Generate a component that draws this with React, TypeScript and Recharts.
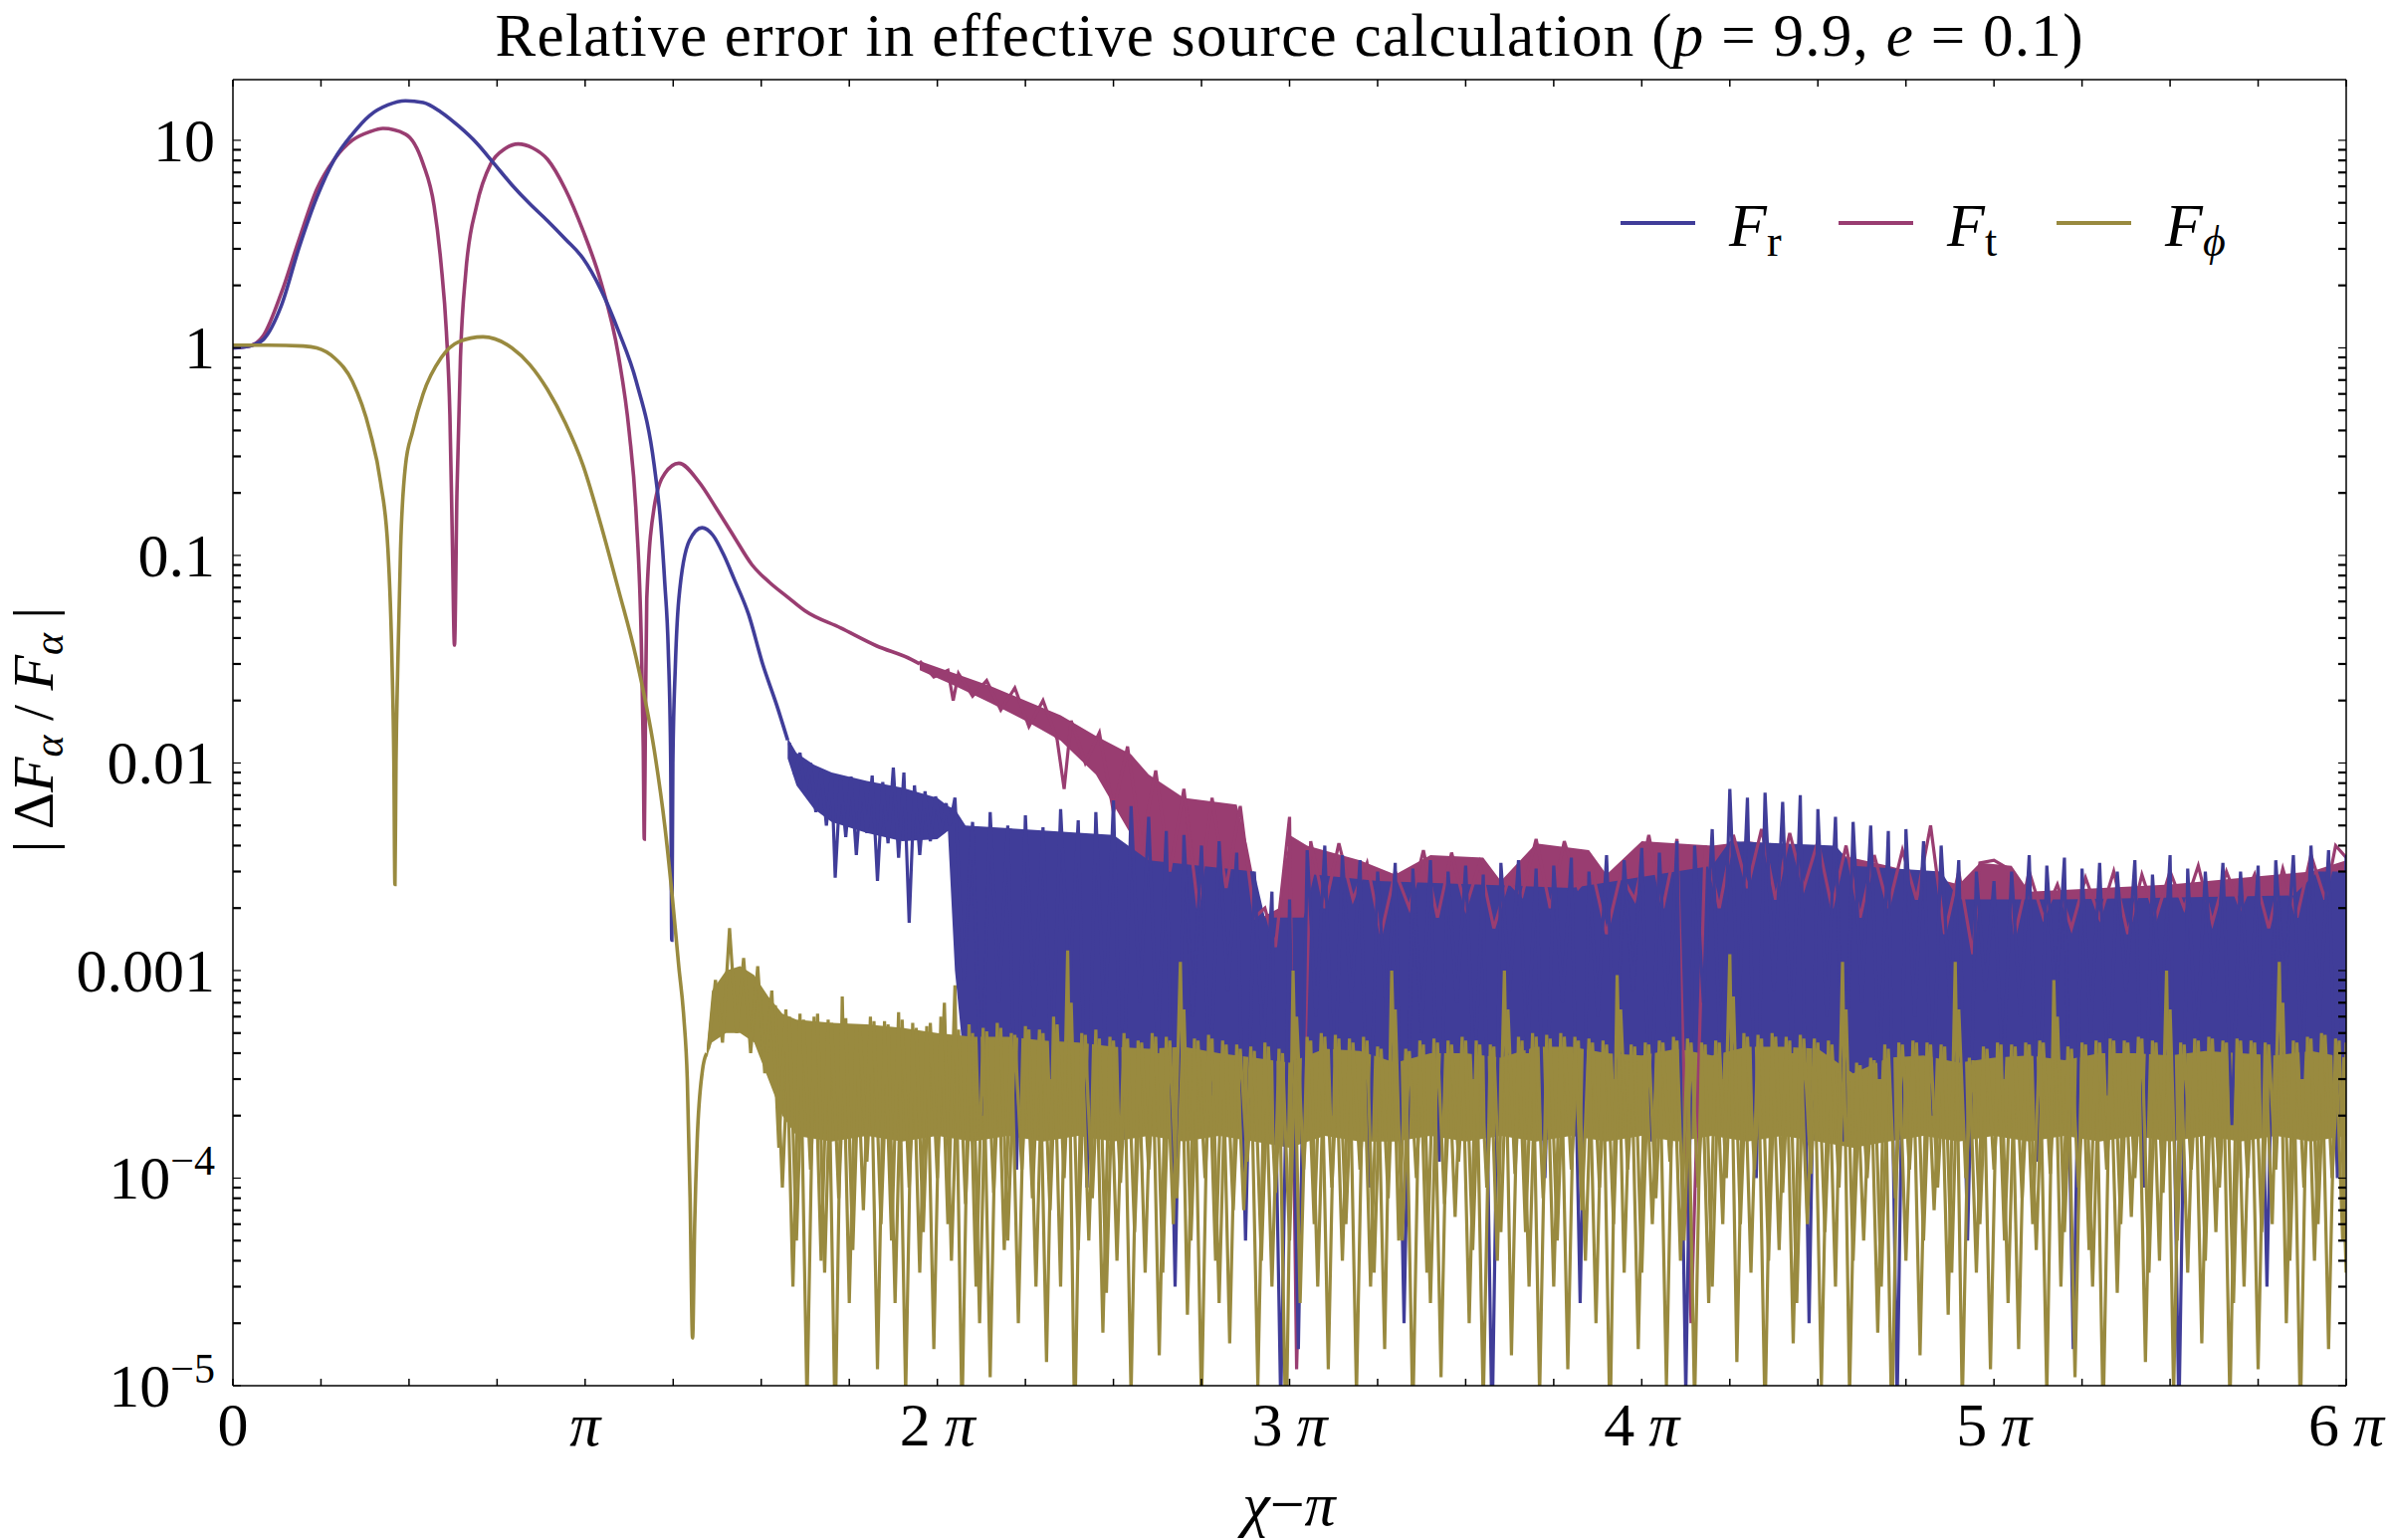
import React from 'react';
import { ComposedChart, Line, Area, XAxis, YAxis, Legend } from 'recharts';

const SERIF = '"Liberation Serif", "Times New Roman", serif';
const BLUE = '#403d99';
const PINK = '#993d71';
const OLIVE = '#998a3f';

// x is chi - pi in units of pi
const xTicks = [0, 0.25, 0.5, 0.75, 1, 1.25, 1.5, 1.75, 2, 2.25, 2.5, 2.75, 3, 3.25, 3.5, 3.75, 4, 4.25, 4.5, 4.75, 5, 5.25, 5.5, 5.75, 6];
const decades = [1e-5, 1e-4, 1e-3, 1e-2, 1e-1, 1, 10];
const minorSteps = [2, 3, 4, 5, 6, 7, 8, 9];
const yTicks = [...decades, ...decades.slice(0, 6).flatMap((d) => minorSteps.map((k) => k * d))];

// F_r (blue): smooth part
const frT = [0, 0.046, 0.087, 0.137, 0.188, 0.238, 0.288, 0.339, 0.389, 0.44, 0.49, 0.54, 0.59, 0.641, 0.692, 0.742, 0.792, 0.843, 0.893, 0.944, 0.994, 1.044, 1.095, 1.145, 1.196, 1.215, 1.226, 1.236, 1.243, 1.246, 1.249, 1.256, 1.266, 1.296, 1.332, 1.363, 1.393, 1.423, 1.464, 1.504, 1.544, 1.575];
const frV = [1.0, 1.02, 1.1, 1.59, 3.05, 5.3, 8.1, 10.7, 13.2, 14.8, 15.5, 15.2, 13.7, 11.7, 9.7, 7.7, 6.1, 4.94, 4.1, 3.34, 2.7, 1.92, 1.2, 0.69, 0.272, 0.14, 0.074, 0.035, 0.01, 0.0014, 0.01, 0.029, 0.0617, 0.118, 0.136, 0.125, 0.101, 0.077, 0.052, 0.03, 0.019, 0.0129];
// F_r noise band [t, low, high] and spikes [t, v]
const frBand = [
  [1.575, 0.0105, 0.0132], [1.6, 0.0078, 0.0112], [1.65, 0.006, 0.0098], [1.7, 0.0052, 0.009], [1.8, 0.0046, 0.0082],
  [1.9, 0.0042, 0.0076], [2.0, 0.0043, 0.0068], [2.03, 0.0047, 0.0062], [2.05, 0.001, 0.006], [2.08, 3e-4, 0.005],
  [2.5, 3e-4, 0.0045], [2.6, 3e-4, 0.0034], [2.9, 3e-4, 0.003], [2.93, 3e-4, 0.0018], [3.04, 3e-4, 0.0018],
  [3.07, 3e-4, 0.0029], [3.25, 3e-4, 0.0027], [3.8, 3e-4, 0.0025], [4.2, 3e-4, 0.0032], [4.25, 3e-4, 0.0042],
  [4.55, 3e-4, 0.004], [4.6, 3e-4, 0.0032], [4.85, 3e-4, 0.003], [4.9, 3e-4, 0.0022], [5.2, 3e-4, 0.0022],
  [5.85, 3e-4, 0.0023], [5.92, 3e-4, 0.003], [6.0, 3e-4, 0.003],
];
const frNoise = [
  [1.58, 0.0125], [1.595, 0.0088], [1.61, 0.0112], [1.625, 0.0072], [1.64, 0.01], [1.655, 0.0058], [1.67, 0.0093], [1.685, 0.005],
  [1.7, 0.0088], [1.71, 0.0028], [1.725, 0.0083], [1.74, 0.0044], [1.755, 0.0086], [1.77, 0.0036], [1.785, 0.008], [1.8, 0.0046],
  [1.815, 0.0087], [1.83, 0.0027], [1.845, 0.0081], [1.86, 0.0041], [1.875, 0.0095], [1.89, 0.0035], [1.905, 0.009], [1.92, 0.0017],
  [1.935, 0.0078], [1.95, 0.0036], [1.965, 0.0073], [1.98, 0.0042], [1.995, 0.0069], [2.01, 0.0046], [2.025, 0.0064], [2.035, 0.005],
  [2.05, 0.0068], [2.075, 9e-4], [2.1, 0.0052], [2.125, 2e-4], [2.15, 0.0058], [2.175, 7e-4], [2.2, 0.005], [2.225, 1.1e-4],
  [2.25, 0.0056], [2.275, 6e-4], [2.3, 0.0049], [2.325, 3e-4], [2.35, 0.006], [2.375, 8e-4], [2.4, 0.0053], [2.425, 9e-5],
  [2.45, 0.0058], [2.475, 5e-4], [2.5, 0.0066], [2.525, 1.4e-4], [2.55, 0.0062], [2.575, 7e-4], [2.6, 0.0055], [2.625, 4e-4],
  [2.65, 0.0047], [2.675, 3e-5], [2.7, 0.0045], [2.725, 6e-4], [2.75, 0.004], [2.775, 2.5e-4], [2.8, 0.0042], [2.825, 8e-4],
  [2.85, 0.0037], [2.875, 5e-5], [2.9, 0.003], [2.925, 4e-4], [2.95, 0.0024], [2.975, 8e-6], [3.0, 0.0022], [3.025, 1.5e-5],
  [3.05, 0.0038], [3.075, 6e-4], [3.1, 0.004], [3.125, 2e-4], [3.15, 0.0036], [3.175, 7e-4], [3.2, 0.0034], [3.225, 9e-5],
  [3.25, 0.003], [3.275, 6e-4], [3.3, 0.0033], [3.325, 2e-5], [3.35, 0.0031], [3.375, 5e-4], [3.4, 0.0034], [3.425, 1.2e-4],
  [3.45, 0.003], [3.475, 7e-4], [3.5, 0.0032], [3.525, 3e-4], [3.55, 0.0029], [3.575, 6e-6], [3.6, 0.0033], [3.625, 8e-4],
  [3.65, 0.0034], [3.675, 4e-4], [3.7, 0.0031], [3.725, 1e-4], [3.75, 0.0032], [3.775, 7e-4], [3.8, 0.0035], [3.825, 2.5e-5],
  [3.85, 0.003], [3.875, 6e-4], [3.9, 0.0036], [3.925, 3e-4], [3.95, 0.0034], [3.975, 8e-4], [4.0, 0.0039], [4.025, 1.5e-4],
  [4.05, 0.0037], [4.075, 5e-4], [4.1, 0.0042], [4.125, 9e-6], [4.15, 0.004], [4.175, 7e-4], [4.2, 0.0048], [4.225, 3e-4],
  [4.25, 0.0075], [4.275, 6e-4], [4.3, 0.0068], [4.325, 1e-4], [4.35, 0.0072], [4.375, 8e-4], [4.4, 0.0065], [4.425, 4e-4],
  [4.45, 0.007], [4.475, 2e-5], [4.5, 0.006], [4.525, 6e-4], [4.55, 0.0055], [4.575, 1.5e-4], [4.6, 0.0052], [4.625, 7e-4],
  [4.65, 0.005], [4.675, 3e-4], [4.7, 0.0047], [4.725, 8e-6], [4.75, 0.0048], [4.775, 6e-4], [4.8, 0.0042], [4.825, 2e-4],
  [4.85, 0.004], [4.875, 7e-4], [4.9, 0.0034], [4.925, 5e-5], [4.95, 0.003], [4.975, 8e-4], [5.0, 0.0027], [5.025, 3e-4],
  [5.05, 0.003], [5.075, 6e-4], [5.1, 0.0036], [5.125, 1.2e-4], [5.15, 0.0032], [5.175, 7e-4], [5.2, 0.0035], [5.225, 1.5e-5],
  [5.25, 0.0031], [5.275, 5e-4], [5.3, 0.0033], [5.325, 2.5e-4], [5.35, 0.003], [5.375, 8e-4], [5.4, 0.0034], [5.425, 9e-5],
  [5.45, 0.0029], [5.475, 6e-4], [5.5, 0.0036], [5.525, 7e-6], [5.55, 0.0031], [5.575, 4e-4], [5.6, 0.003], [5.625, 7e-4],
  [5.65, 0.0033], [5.675, 1.8e-4], [5.7, 0.003], [5.725, 6e-4], [5.75, 0.0032], [5.775, 3e-5], [5.8, 0.0034], [5.825, 8e-4],
  [5.85, 0.0036], [5.875, 3e-4], [5.9, 0.004], [5.925, 6e-4], [5.95, 0.0038], [5.975, 1e-4], [6.0, 0.0036],
];

// F_t (magenta): smooth part
const ftT = [0, 0.046, 0.087, 0.137, 0.188, 0.238, 0.288, 0.339, 0.389, 0.426, 0.49, 0.54, 0.571, 0.591, 0.606, 0.616, 0.623, 0.629, 0.636, 0.646, 0.661, 0.692, 0.732, 0.772, 0.81, 0.85, 0.893, 0.944, 0.994, 1.044, 1.095, 1.125, 1.145, 1.16, 1.165, 1.168, 1.171, 1.175, 1.196, 1.226, 1.266, 1.323, 1.373, 1.423, 1.474, 1.524, 1.575, 1.625, 1.726, 1.827, 1.927, 1.95];
const ftV = [1.0, 1.02, 1.15, 1.83, 3.34, 5.8, 8.1, 10.0, 11.0, 11.4, 10.7, 7.7, 4.85, 2.53, 1.2, 0.475, 0.118, 0.037, 0.2, 0.9, 2.3, 4.85, 7.7, 9.1, 9.6, 9.2, 8.1, 5.8, 3.67, 2.1, 0.91, 0.395, 0.156, 0.035, 0.012, 0.0043, 0.015, 0.062, 0.171, 0.248, 0.278, 0.226, 0.168, 0.123, 0.09, 0.074, 0.063, 0.054, 0.0447, 0.0367, 0.0315, 0.03];
const ftBand = [
  [1.95, 0.028, 0.031], [2.05, 0.0235, 0.027], [2.15, 0.0195, 0.0235], [2.25, 0.016, 0.02], [2.35, 0.0128, 0.017],
  [2.45, 0.0088, 0.0135], [2.55, 0.0045, 0.011], [2.6, 0.0015, 0.0088], [2.7, 0.0015, 0.0068], [2.85, 0.0015, 0.0063],
  [2.88, 0.0015, 0.004], [2.92, 0.0012, 0.0018], [2.97, 0.0012, 0.002], [3.0, 0.0015, 0.0045], [3.05, 0.0015, 0.004],
  [3.2, 0.0015, 0.0034], [3.3, 0.0015, 0.0029], [3.4, 0.0015, 0.0036], [3.55, 0.0015, 0.0035], [3.6, 0.0015, 0.0027],
  [3.7, 0.0015, 0.0041], [3.85, 0.0015, 0.0038], [3.9, 0.0015, 0.0029], [4.0, 0.0015, 0.0042], [4.2, 0.0015, 0.004],
  [4.3, 0.0015, 0.0042], [4.5, 0.0015, 0.0038], [4.7, 0.0015, 0.0032], [4.9, 0.0015, 0.0026], [4.96, 0.0015, 0.0033],
  [5.05, 0.0015, 0.0032], [5.1, 0.0015, 0.0024], [5.5, 0.0015, 0.0026], [5.9, 0.0015, 0.003], [6.0, 0.0015, 0.0034],
];
const ftNoise = [
  [1.95, 0.031], [1.99, 0.026], [2.03, 0.028], [2.045, 0.02], [2.06, 0.027], [2.1, 0.021], [2.14, 0.025], [2.18, 0.018],
  [2.22, 0.023], [2.26, 0.015], [2.3, 0.02], [2.34, 0.013], [2.36, 0.0075], [2.38, 0.016], [2.42, 0.01], [2.46, 0.014],
  [2.5, 0.0058], [2.54, 0.012], [2.58, 0.004], [2.62, 0.0092], [2.66, 0.003], [2.7, 0.0075], [2.74, 0.002], [2.78, 0.0068],
  [2.82, 0.0025], [2.86, 0.0062], [2.9, 0.0018], [2.93, 0.002], [2.96, 0.0013], [3.0, 0.0055], [3.02, 1.2e-5], [3.06, 0.0042],
  [3.1, 0.002], [3.14, 0.0041], [3.18, 0.0022], [3.22, 0.0033], [3.26, 0.0015], [3.3, 0.003], [3.34, 0.002], [3.38, 0.0038],
  [3.42, 0.0018], [3.46, 0.0037], [3.5, 0.002], [3.54, 0.0033], [3.58, 0.0016], [3.62, 0.0027], [3.66, 0.0023], [3.7, 0.0043],
  [3.74, 0.002], [3.78, 0.0042], [3.82, 0.0025], [3.86, 0.003], [3.9, 0.0015], [3.94, 0.0029], [3.98, 0.0022], [4.02, 0.0045],
  [4.06, 0.002], [4.1, 0.0043], [4.14, 2e-5], [4.18, 0.004], [4.22, 0.002], [4.26, 0.0045], [4.3, 0.0025], [4.34, 0.0048],
  [4.38, 0.0022], [4.42, 0.0046], [4.46, 0.0025], [4.5, 0.0042], [4.54, 0.002], [4.58, 0.004], [4.62, 0.0018], [4.66, 0.0036],
  [4.7, 0.002], [4.74, 0.0038], [4.78, 0.0022], [4.82, 0.005], [4.86, 0.0015], [4.9, 0.003], [4.94, 0.0012], [4.96, 0.0033],
  [5.0, 0.0034], [5.04, 0.0031], [5.06, 0.0015], [5.1, 0.003], [5.14, 0.0018], [5.18, 0.0026], [5.22, 0.0016], [5.26, 0.0028],
  [5.3, 0.0018], [5.34, 0.003], [5.38, 0.0015], [5.42, 0.0029], [5.46, 0.0018], [5.5, 0.003], [5.54, 0.002], [5.58, 0.0032],
  [5.62, 0.0017], [5.66, 0.003], [5.7, 0.002], [5.74, 0.0029], [5.78, 0.0016], [5.82, 0.0031], [5.86, 0.0018], [5.9, 0.0036],
  [5.94, 0.0022], [5.97, 0.004], [6.0, 0.0035],
];

// F_phi (olive): smooth part
const fpT = [0, 0.1, 0.2, 0.238, 0.288, 0.339, 0.389, 0.419, 0.44, 0.452, 0.457, 0.46, 0.463, 0.468, 0.476, 0.49, 0.51, 0.54, 0.591, 0.641, 0.71, 0.792, 0.843, 0.893, 0.944, 0.994, 1.044, 1.095, 1.145, 1.196, 1.226, 1.246, 1.266, 1.28, 1.29, 1.298, 1.305, 1.311, 1.318, 1.333, 1.345];
const fpV = [1.03, 1.03, 1.02, 1.0, 0.895, 0.69, 0.395, 0.226, 0.108, 0.029, 0.01, 0.0026, 0.01, 0.029, 0.108, 0.272, 0.395, 0.6, 0.895, 1.07, 1.13, 1.0, 0.83, 0.63, 0.434, 0.272, 0.142, 0.068, 0.032, 0.0116, 0.005, 0.0024, 0.00104, 0.0006, 0.0003, 0.00008, 0.000017, 0.00006, 0.00015, 0.00033, 0.0004];
const fpBand = [
  [1.345, 3.8e-4, 4.2e-4], [1.36, 4.5e-4, 8e-4], [1.4, 5e-4, 1e-3], [1.44, 5e-4, 1.05e-3], [1.48, 4.5e-4, 9.5e-4],
  [1.52, 3e-4, 7.5e-4], [1.56, 2e-4, 6.2e-4], [1.6, 1.6e-4, 5.8e-4], [1.7, 1.5e-4, 5.6e-4], [1.8, 1.6e-4, 5.5e-4],
  [1.9, 1.5e-4, 5.3e-4], [2.0, 1.6e-4, 5e-4], [2.1, 1.5e-4, 4.8e-4], [2.2, 1.6e-4, 4.8e-4], [2.3, 1.5e-4, 4.6e-4],
  [2.4, 1.6e-4, 4.5e-4], [2.5, 1.5e-4, 4.3e-4], [2.6, 1.6e-4, 4.2e-4], [2.7, 1.5e-4, 4.3e-4], [2.8, 1.6e-4, 4e-4],
  [2.9, 1.5e-4, 3.8e-4], [3.0, 1.4e-4, 3.6e-4], [3.1, 1.6e-4, 4.2e-4], [3.2, 1.5e-4, 4.1e-4], [3.3, 1.5e-4, 3.6e-4],
  [3.4, 1.6e-4, 4e-4], [3.5, 1.5e-4, 4e-4], [3.6, 1.6e-4, 3.8e-4], [3.7, 1.5e-4, 4.3e-4], [3.8, 1.6e-4, 4.3e-4],
  [3.9, 1.5e-4, 4e-4], [4.0, 1.6e-4, 3.9e-4], [4.1, 1.5e-4, 4.2e-4], [4.2, 1.6e-4, 3.9e-4], [4.3, 1.5e-4, 4.3e-4],
  [4.4, 1.6e-4, 4.3e-4], [4.5, 1.5e-4, 4.2e-4], [4.6, 1.4e-4, 3.2e-4], [4.7, 1.5e-4, 3.8e-4], [4.8, 1.6e-4, 3.9e-4],
  [4.9, 1.5e-4, 3.6e-4], [5.0, 1.6e-4, 3.8e-4], [5.1, 1.5e-4, 3.9e-4], [5.2, 1.6e-4, 3.7e-4], [5.3, 1.5e-4, 4e-4],
  [5.4, 1.6e-4, 4e-4], [5.5, 1.5e-4, 3.9e-4], [5.6, 1.6e-4, 4.1e-4], [5.7, 1.5e-4, 4e-4], [5.8, 1.6e-4, 3.9e-4],
  [5.9, 1.5e-4, 4.1e-4], [6.0, 1.6e-4, 3.8e-4],
];
// deep spikes
const fpNoise = [
  [1.35, 4.2e-4], [1.37, 9e-4], [1.39, 4.5e-4], [1.41, 1.6e-3], [1.43, 5e-4], [1.45, 1.15e-3], [1.47, 4e-4], [1.49, 1.05e-3], [1.51, 3.2e-4],
  [1.53, 8e-4], [1.55, 1.4e-4], [1.57, 6.5e-4], [1.59, 3e-5], [1.61, 6.2e-4], [1.63, 8e-6], [1.65, 6e-4], [1.67, 4e-5], [1.69, 5.8e-4], [1.71, 6e-6],
  [1.73, 7.5e-4], [1.75, 2.5e-5], [1.77, 5.5e-4], [1.79, 7e-5], [1.81, 6e-4], [1.83, 1.2e-5], [1.85, 5.7e-4], [1.87, 5e-5], [1.89, 6.3e-4], [1.91, 9e-6],
  [1.93, 5.6e-4], [1.95, 3.5e-5], [1.97, 5.4e-4], [1.99, 1.5e-5], [2.01, 6e-4], [2.03, 6e-5], [2.05, 8.5e-4], [2.07, 7e-6], [2.09, 5.5e-4], [2.11, 3e-5],
  [2.13, 5.3e-4], [2.15, 1.1e-5], [2.17, 5.6e-4], [2.19, 4.5e-5], [2.21, 5e-4], [2.23, 2e-5], [2.25, 5.4e-4], [2.27, 8e-5], [2.29, 5.2e-4], [2.31, 1.3e-5],
  [2.33, 6e-4], [2.35, 3e-5], [2.37, 1.25e-3], [2.39, 6e-6], [2.41, 5e-4], [2.43, 5e-5], [2.45, 5.2e-4], [2.47, 1.8e-5], [2.49, 4.8e-4], [2.51, 4e-5],
  [2.53, 5e-4], [2.55, 9e-6], [2.57, 4.6e-4], [2.59, 3.5e-5], [2.61, 5e-4], [2.63, 1.4e-5], [2.65, 4.8e-4], [2.67, 6e-5], [2.69, 1.1e-3], [2.71, 2.2e-5],
  [2.73, 4.7e-4], [2.75, 8e-6], [2.77, 4.9e-4], [2.79, 4e-5], [2.81, 4.6e-4], [2.83, 1.6e-5], [2.85, 4.4e-4], [2.87, 7e-5], [2.89, 4.3e-4], [2.91, 1e-5],
  [2.93, 4.5e-4], [2.95, 3e-5], [2.97, 4.2e-4], [2.99, 5e-6], [3.01, 1e-3], [3.03, 2.5e-5], [3.05, 4.8e-4], [3.07, 6e-5], [3.09, 5e-4], [3.11, 1.2e-5],
  [3.13, 4.9e-4], [3.15, 4e-5], [3.17, 4.7e-4], [3.19, 9e-6], [3.21, 4.8e-4], [3.23, 3e-5], [3.25, 4.3e-4], [3.27, 1.5e-5], [3.29, 1e-3], [3.31, 5e-5],
  [3.33, 4.2e-4], [3.35, 7e-6], [3.37, 4.6e-4], [3.39, 3.5e-5], [3.41, 4.7e-4], [3.43, 1.1e-5], [3.45, 4.6e-4], [3.47, 6.5e-5], [3.49, 4.8e-4], [3.51, 2e-5],
  [3.53, 4.6e-4], [3.55, 8e-6], [3.57, 4.4e-4], [3.59, 4e-5], [3.61, 1e-3], [3.63, 1.4e-5], [3.65, 4.8e-4], [3.67, 5.5e-5], [3.69, 5e-4], [3.71, 9e-6],
  [3.73, 4.9e-4], [3.75, 3e-5], [3.77, 5e-4], [3.79, 1.2e-5], [3.81, 4.8e-4], [3.83, 7e-5], [3.85, 4.7e-4], [3.87, 2e-5], [3.89, 4.6e-4], [3.91, 6e-6],
  [3.93, 9.5e-4], [3.95, 3.5e-5], [3.97, 4.4e-4], [3.99, 1.5e-5], [4.01, 4.5e-4], [4.03, 6e-5], [4.05, 4.6e-4], [4.07, 1e-5], [4.09, 4.8e-4], [4.11, 4e-5],
  [4.13, 4.7e-4], [4.15, 8e-6], [4.17, 4.5e-4], [4.19, 2.5e-5], [4.21, 4.6e-4], [4.23, 6e-5], [4.25, 1.2e-3], [4.27, 1.3e-5], [4.29, 5e-4], [4.31, 3.5e-5],
  [4.33, 4.9e-4], [4.35, 7e-6], [4.37, 5e-4], [4.39, 4.5e-5], [4.41, 4.8e-4], [4.43, 1.6e-5], [4.45, 4.9e-4], [4.47, 6e-5], [4.49, 4.7e-4], [4.51, 1e-5],
  [4.53, 4.6e-4], [4.55, 3e-5], [4.57, 1.1e-3], [4.59, 9e-6], [4.61, 3.6e-4], [4.63, 5e-5], [4.65, 3.8e-4], [4.67, 1.8e-5], [4.69, 4.4e-4], [4.71, 6e-6],
  [4.73, 4.5e-4], [4.75, 4e-5], [4.77, 4.6e-4], [4.79, 1.4e-5], [4.81, 4.5e-4], [4.83, 7e-5], [4.85, 4.4e-4], [4.87, 2.2e-5], [4.89, 1.1e-3], [4.91, 8e-6],
  [4.93, 3.8e-4], [4.95, 3.5e-5], [4.97, 4.3e-4], [4.99, 1.2e-5], [5.01, 4.5e-4], [5.03, 5e-5], [5.05, 4.4e-4], [5.07, 1.5e-5], [5.09, 4.5e-4], [5.11, 6e-5],
  [5.13, 4.6e-4], [5.15, 9e-6], [5.17, 9e-4], [5.19, 3e-5], [5.21, 4.3e-4], [5.23, 1.1e-5], [5.25, 4.5e-4], [5.27, 4.5e-5], [5.29, 4.6e-4], [5.31, 7e-6],
  [5.33, 4.7e-4], [5.35, 2.8e-5], [5.37, 4.6e-4], [5.39, 6.5e-5], [5.41, 4.8e-4], [5.43, 1.3e-5], [5.45, 4.6e-4], [5.47, 4e-5], [5.49, 1e-3], [5.51, 9e-6],
  [5.53, 4.5e-4], [5.55, 3.5e-5], [5.57, 4.7e-4], [5.59, 1.6e-5], [5.61, 4.8e-4], [5.63, 5.5e-5], [5.65, 4.6e-4], [5.67, 8e-6], [5.69, 4.7e-4], [5.71, 3e-5],
  [5.73, 4.6e-4], [5.75, 1.2e-5], [5.77, 4.5e-4], [5.79, 6e-5], [5.81, 1.1e-3], [5.83, 2e-5], [5.85, 4.6e-4], [5.87, 7e-6], [5.89, 4.8e-4], [5.91, 4e-5],
  [5.93, 5e-4], [5.95, 1.5e-5], [5.97, 4.7e-4], [5.99, 5e-5], [6.0, 4.5e-4],
];
// shallower spikes in between
const fpNoise2 = [
  [1.54, 6.8e-4], [1.56, 9e-5], [1.58, 6e-4], [1.6, 5e-5], [1.62, 5.8e-4], [1.64, 1.1e-4], [1.66, 6.2e-4], [1.68, 3.5e-5], [1.7, 5.6e-4], [1.72, 8e-5],
  [1.74, 5.9e-4], [1.76, 4.5e-5], [1.78, 5.4e-4], [1.8, 1.2e-4], [1.82, 5.7e-4], [1.84, 6e-5], [1.86, 5.5e-4], [1.88, 2.5e-5], [1.9, 5.8e-4], [1.92, 9e-5],
  [1.94, 5.3e-4], [1.96, 5.5e-5], [1.98, 5.6e-4], [2.0, 1e-4], [2.02, 7e-4], [2.04, 4e-5], [2.06, 5.2e-4], [2.08, 7.5e-5], [2.1, 5e-4], [2.12, 2e-5],
  [2.14, 5.1e-4], [2.16, 8.5e-5], [2.18, 5.3e-4], [2.2, 5e-5], [2.22, 4.9e-4], [2.24, 1.1e-4], [2.26, 5.2e-4], [2.28, 3e-5], [2.3, 5e-4], [2.32, 7e-5],
  [2.34, 5.5e-4], [2.36, 1e-4], [2.38, 7e-4], [2.4, 4.5e-5], [2.42, 4.9e-4], [2.44, 8e-5], [2.46, 4.7e-4], [2.48, 2.8e-5], [2.5, 4.6e-4], [2.52, 9.5e-5],
  [2.54, 4.7e-4], [2.56, 5.5e-5], [2.58, 4.5e-4], [2.6, 1.1e-4], [2.62, 4.8e-4], [2.64, 3.5e-5], [2.66, 4.6e-4], [2.68, 8e-5], [2.7, 6.5e-4], [2.72, 5e-5],
  [2.74, 4.6e-4], [2.76, 1e-4], [2.78, 4.7e-4], [2.8, 2.5e-5], [2.82, 4.4e-4], [2.84, 7e-5], [2.86, 4.2e-4], [2.88, 1.2e-4], [2.9, 4.1e-4], [2.92, 4e-5],
  [2.94, 4.3e-4], [2.96, 8.5e-5], [2.98, 4e-4], [3.0, 5e-5], [3.02, 6e-4], [3.04, 1.1e-4], [3.06, 4.6e-4], [3.08, 3e-5], [3.1, 4.8e-4], [3.12, 9e-5],
  [3.14, 4.7e-4], [3.16, 6e-5], [3.18, 4.5e-4], [3.2, 1.1e-4], [3.22, 4.6e-4], [3.24, 3.5e-5], [3.26, 4.2e-4], [3.28, 8e-5], [3.3, 6.5e-4], [3.32, 5e-5],
  [3.34, 4.1e-4], [3.36, 1e-4], [3.38, 4.4e-4], [3.4, 2.5e-5], [3.42, 4.5e-4], [3.44, 7.5e-5], [3.46, 4.4e-4], [3.48, 1.2e-4], [3.5, 4.6e-4], [3.52, 4.5e-5],
  [3.54, 4.4e-4], [3.56, 9e-5], [3.58, 4.3e-4], [3.6, 5.5e-5], [3.62, 6.5e-4], [3.64, 1.05e-4], [3.66, 4.6e-4], [3.68, 3e-5], [3.7, 4.8e-4], [3.72, 8e-5],
  [3.74, 4.7e-4], [3.76, 5e-5], [3.78, 4.8e-4], [3.8, 1.1e-4], [3.82, 4.6e-4], [3.84, 4e-5], [3.86, 4.5e-4], [3.88, 9e-5], [3.9, 4.4e-4], [3.92, 6e-5],
  [3.94, 6.5e-4], [3.96, 1.1e-4], [3.98, 4.3e-4], [4.0, 3.5e-5], [4.02, 4.4e-4], [4.04, 8e-5], [4.06, 4.5e-4], [4.08, 1.2e-4], [4.1, 4.6e-4], [4.12, 5e-5],
  [4.14, 4.5e-4], [4.16, 9e-5], [4.18, 4.4e-4], [4.2, 3e-5], [4.22, 4.5e-4], [4.24, 1e-4], [4.26, 7.5e-4], [4.28, 6e-5], [4.3, 4.8e-4], [4.32, 1.1e-4],
  [4.34, 4.7e-4], [4.36, 4e-5], [4.38, 4.8e-4], [4.4, 8.5e-5], [4.42, 4.6e-4], [4.44, 2.5e-5], [4.46, 4.7e-4], [4.48, 1.05e-4], [4.5, 4.5e-4], [4.52, 5.5e-5],
  [4.54, 4.4e-4], [4.56, 9e-5], [4.58, 6.5e-4], [4.6, 4e-5], [4.62, 3.5e-4], [4.64, 1e-4], [4.66, 3.7e-4], [4.68, 3e-5], [4.7, 4.2e-4], [4.72, 8e-5],
  [4.74, 4.4e-4], [4.76, 1.1e-4], [4.78, 4.5e-4], [4.8, 5e-5], [4.82, 4.4e-4], [4.84, 9e-5], [4.86, 4.3e-4], [4.88, 3.5e-5], [4.9, 6.5e-4], [4.92, 1e-4],
  [4.94, 3.7e-4], [4.96, 6e-5], [4.98, 4.2e-4], [5.0, 1.1e-4], [5.02, 4.4e-4], [5.04, 2.5e-5], [5.06, 4.3e-4], [5.08, 8e-5], [5.1, 4.4e-4], [5.12, 4.5e-5],
  [5.14, 4.5e-4], [5.16, 1.05e-4], [5.18, 6e-4], [5.2, 5.5e-5], [5.22, 4.2e-4], [5.24, 9e-5], [5.26, 4.4e-4], [5.28, 3e-5], [5.3, 4.5e-4], [5.32, 1.1e-4],
  [5.34, 4.6e-4], [5.36, 6e-5], [5.38, 4.5e-4], [5.4, 1e-4], [5.42, 4.7e-4], [5.44, 3.5e-5], [5.46, 4.5e-4], [5.48, 8.5e-5], [5.5, 6.5e-4], [5.52, 5e-5],
  [5.54, 4.4e-4], [5.56, 1.1e-4], [5.58, 4.6e-4], [5.6, 4e-5], [5.62, 4.7e-4], [5.64, 9e-5], [5.66, 4.5e-4], [5.68, 2.5e-5], [5.7, 4.6e-4], [5.72, 1e-4],
  [5.74, 4.5e-4], [5.76, 5.5e-5], [5.78, 4.4e-4], [5.8, 1.1e-4], [5.82, 7e-4], [5.84, 4e-5], [5.86, 4.5e-4], [5.88, 9e-5], [5.9, 4.7e-4], [5.92, 6e-5],
  [5.94, 4.9e-4], [5.96, 1e-4], [5.98, 4.6e-4], [6.0, 3.5e-5],
];

const toLine = (ts: number[], vs: number[]) => ts.map((t, i) => ({ t, v: vs[i] }));
const toPairs = (ps: number[][]) => ps.map(([t, v]) => ({ t, v }));
const toBand = (rows: number[][]) => rows.map(([t, lo, hi]) => ({ t, r: [lo, hi] }));

const series = [
  { key: 'ft', color: PINK, smooth: toLine(ftT, ftV), band: toBand(ftBand), noise: [toPairs(ftNoise)] },
  { key: 'fr', color: BLUE, smooth: toLine(frT, frV), band: toBand(frBand), noise: [toPairs(frNoise)] },
  { key: 'fp', color: OLIVE, smooth: toLine(fpT, fpV), band: toBand(fpBand), noise: [toPairs(fpNoise2), toPairs(fpNoise)] },
];

const XTick = ({ x, y, payload, top }: any) => {
  const v = payload.value;
  return (
    <g>
      <line x1={x} x2={x} y1={y} y2={top ? y + 7 : y - 7} stroke="#000" strokeWidth={1.5} />
      {!top && Number.isInteger(v) && (
        <text x={x} y={y + 60} textAnchor="middle" fontFamily={SERIF} fontSize={62} fill="#000">
          {v === 0 ? '0' : v === 1 ? <tspan fontStyle="italic">π</tspan> : (
            <>
              <tspan>{v}</tspan>
              <tspan dx={14} fontStyle="italic">π</tspan>
            </>
          )}
        </text>
      )}
    </g>
  );
};

const yLabel = (e: number) => {
  if (e === 1) return '10';
  if (e === 0) return '1';
  if (e >= -3) return (0).toFixed(-e).slice(0, -1) + '1';
  return (
    <>
      <tspan>10</tspan>
      <tspan dy={-24} fontSize={42}>{'−' + -e}</tspan>
    </>
  );
};

const YTick = ({ x, y, payload, side }: any) => {
  const lg = Math.log10(payload.value);
  const e = Math.round(lg);
  const major = Math.abs(lg - e) < 1e-6;
  const dir = side === 'left' ? 1 : -1;
  return (
    <g>
      <line x1={x} x2={x + dir * 8} y1={y} y2={y} stroke="#000" strokeWidth={major ? 1.2 : 2.2} />
      {side === 'left' && major && (
        <text x={x - 18} y={y + 21} textAnchor="end" fontFamily={SERIF} fontSize={62} fill="#000">
          {yLabel(e)}
        </text>
      )}
    </g>
  );
};

const legendItems = [
  { color: BLUE, sub: 'r', italic: false },
  { color: PINK, sub: 't', italic: false },
  { color: OLIVE, sub: 'ϕ', italic: true },
];

const LegendBox = () => (
  <svg width={740} height={110}>
    {legendItems.map((it, i) => (
      <g key={it.sub}>
        <line x1={28 + 219 * i} x2={103 + 219 * i} y1={54} y2={54} stroke={it.color} strokeWidth={4} />
        <text x={137 + 219 * i} y={77} fontFamily={SERIF} fontSize={62} fill="#000">
          <tspan fontStyle="italic">F</tspan>
          <tspan fontSize={44} dy={10} fontStyle={it.italic ? 'italic' : 'normal'}>{it.sub}</tspan>
        </text>
      </g>
    ))}
  </svg>
);

const axisLine = { stroke: '#000', strokeWidth: 1.5 };

export default function App() {
  return (
    <div style={{ position: 'absolute', left: 0, top: 0, width: 2400, height: 1547, background: '#fff' }}>
      <ComposedChart width={2400} height={1547} margin={{ top: 0, right: 0, bottom: 0, left: 0 }}>
        <XAxis xAxisId="b" type="number" dataKey="t" domain={[0, 6]} ticks={xTicks} interval={0} allowDataOverflow
          height={155} tickSize={0} tickMargin={0} tickLine={false} axisLine={axisLine} tick={(p: any) => <XTick {...p} />} />
        <XAxis xAxisId="top" orientation="top" type="number" dataKey="t" domain={[0, 6]} ticks={xTicks} interval={0} allowDataOverflow
          height={80} tickSize={0} tickMargin={0} tickLine={false} axisLine={axisLine} tick={(p: any) => <XTick {...p} top />} />
        <YAxis yAxisId="l" type="number" scale="log" domain={[1e-5, 19.6]} ticks={yTicks} interval={0} allowDataOverflow
          width={234} tickSize={0} tickMargin={0} tickLine={false} axisLine={axisLine} tick={(p: any) => <YTick {...p} side="left" />} />
        <YAxis yAxisId="r" orientation="right" type="number" scale="log" domain={[1e-5, 19.6]} ticks={yTicks} interval={0} allowDataOverflow
          width={43} tickSize={0} tickMargin={0} tickLine={false} axisLine={axisLine} tick={(p: any) => <YTick {...p} side="right" />} />
        <Legend layout="horizontal" verticalAlign="middle" align="center"
          wrapperStyle={{ position: 'absolute', left: 1600, top: 170, width: 740, height: 110 }}
          content={() => <LegendBox />} />
        {series.flatMap((s) => [
          <Area key={s.key + 'b'} xAxisId="b" yAxisId="l" data={s.band} dataKey="r" type="linear" stroke="none"
            fill={s.color} fillOpacity={1} dot={false} activeDot={false} isAnimationActive={false} />,
          ...s.noise.map((d, i) => (
            <Line key={s.key + 'n' + i} xAxisId="b" yAxisId="l" data={d} dataKey="v" type="linear" stroke={s.color}
              strokeWidth={3.2} dot={false} activeDot={false} isAnimationActive={false} />
          )),
          <Line key={s.key + 's'} xAxisId="b" yAxisId="l" data={s.smooth} dataKey="v" type="monotone" stroke={s.color}
            strokeWidth={3.6} dot={false} activeDot={false} isAnimationActive={false} />,
        ])}
      </ComposedChart>
      <svg width={2400} height={1547} style={{ position: 'absolute', left: 0, top: 0, pointerEvents: 'none' }}
        fontFamily={SERIF} fill="#000">
        <text x={1295} y={56} textAnchor="middle" fontSize={61} textLength={1595} lengthAdjust="spacing">
          {'Relative error in effective source calculation ('}
          <tspan fontStyle="italic">p</tspan>
          {' = 9.9, '}
          <tspan fontStyle="italic">e</tspan>
          {' = 0.1)'}
        </text>
        <text transform="translate(53,733) rotate(-90)" textAnchor="middle" fontSize={58}>
          {'| Δ'}
          <tspan fontStyle="italic">F</tspan>
          <tspan fontStyle="italic" fontSize={42} dy={10}>α</tspan>
          <tspan dy={-10}>{' / '}</tspan>
          <tspan fontStyle="italic">F</tspan>
          <tspan fontStyle="italic" fontSize={42} dy={10}>α</tspan>
          <tspan dy={-10}>{' |'}</tspan>
        </text>
        <text x={1295} y={1532} textAnchor="middle" fontSize={62}>
          <tspan fontStyle="italic">χ</tspan>
          {'−'}
          <tspan fontStyle="italic">π</tspan>
        </text>
      </svg>
    </div>
  );
}
